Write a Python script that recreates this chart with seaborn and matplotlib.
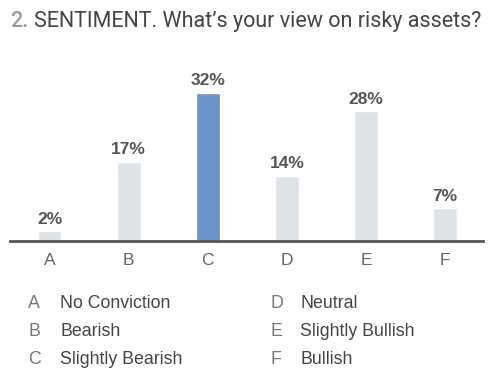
import matplotlib
matplotlib.use("Agg")
import matplotlib.pyplot as plt
import seaborn as sns
import pandas as pd

categories = ["A", "B", "C", "D", "E", "F"]
values = [2, 17, 32, 14, 28, 7]
names = ["No Conviction", "Bearish", "Slightly Bearish",
         "Neutral", "Slightly Bullish", "Bullish"]
highlight = "C"

sns.set_style("white")
plt.rcParams['font.family'] = ['Liberation Sans', 'DejaVu Sans']

df = pd.DataFrame({'cat': categories, 'val': values})
colors = {c: ('#6b92c9' if c == highlight else '#dfe3e6') for c in categories}

fig = plt.figure(figsize=(4.99, 3.83), dpi=100)
ax = fig.add_axes([0.02, 0.372, 0.948, 0.47])
sns.barplot(data=df, x='cat', y='val', hue='cat', palette=colors,
            width=0.3, legend=False, ax=ax, saturation=1)

ax.set_xlim(-0.5, 5.48)
ax.set_ylim(0, 39)
sns.despine(ax=ax, left=True, top=True, right=True)
ax.spines['bottom'].set_color('#555555')
ax.spines['bottom'].set_linewidth(2)
ax.set_yticks([])
ax.set_xlabel('')
ax.set_ylabel('')
ax.tick_params(axis='x', length=0, pad=9, labelsize=12.5, labelcolor='#666666')

for i, v in enumerate(values):
    ax.text(i, v + 1.0, f"{v}%", ha='center', va='bottom',
            fontsize=12.5, fontweight='bold', color='#555555')

# title
fig.text(0.02, 0.945, "2.", fontsize=15.5, color='#9a9a9a', va='center',
         ha='left', family='Roboto', fontweight='medium')
fig.text(0.069, 0.945, "SENTIMENT. What\u2019s your view on risky assets?",
         fontsize=15.5, color='#444444', va='center', ha='left', family='Roboto')

# legend list
rows_y = [304, 332, 359]
for i, (c, n) in enumerate(zip(categories, names)):
    col = i // 3
    y = 1 - rows_y[i % 3] / 383
    lx = (28 if col == 0 else 270) / 499
    nx = (60 if col == 0 else 300) / 499
    fig.text(lx, y, c, fontsize=12.8, color='#777777', va='center', ha='left')
    fig.text(nx, y, n, fontsize=12.8, color='#444444', va='center', ha='left')

fig.savefig("out.png", dpi=100)
